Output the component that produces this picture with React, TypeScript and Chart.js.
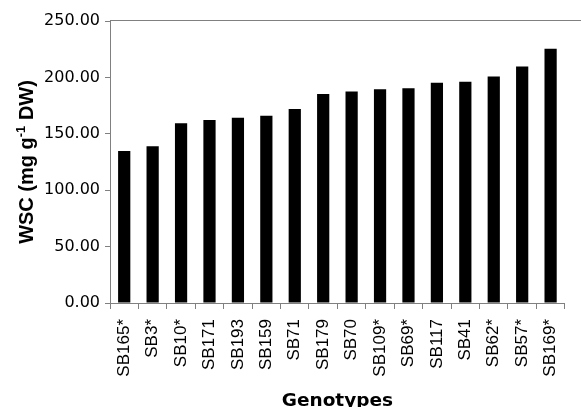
import React, { useEffect, useRef } from 'react';
import { Chart, registerables } from 'chart.js';

Chart.register(...registerables);

const categories = ['SB165*', 'SB3*', 'SB10*', 'SB171', 'SB193', 'SB159', 'SB71', 'SB179', 'SB70', 'SB109*', 'SB69*', 'SB117', 'SB41', 'SB62*', 'SB57*', 'SB169*'];
const wscValues = [134.8, 138.9, 159.3, 162.2, 164.2, 166.0, 172.0, 185.2, 187.6, 189.4, 190.3, 195.2, 196.1, 200.9, 209.7, 225.3];
const yTickValues = [0, 50, 100, 150, 200, 250];
const yTitleParts = ['WSC (mg g', '-1', ' DW)'];
const xTitle = 'Genotypes';

const decorPlugin = {
  id: 'decor',
  afterDraw(chart: any) {
    const { ctx, chartArea } = chart;
    ctx.save();
    // top frame line
    ctx.strokeStyle = '#808080';
    ctx.lineWidth = 1;
    ctx.beginPath();
    ctx.moveTo(chartArea.left, Math.round(chartArea.top) - 0.5);
    ctx.lineTo(chart.width, Math.round(chartArea.top) - 0.5);
    ctx.stroke();

    // y axis title with superscript
    ctx.fillStyle = '#000';
    ctx.textBaseline = 'alphabetic';
    ctx.textAlign = 'left';
    const mainFont = 'bold 20px "Liberation Sans", Arial, sans-serif';
    const supFont = 'bold 13px "Liberation Sans", Arial, sans-serif';
    ctx.font = mainFont;
    const w0 = ctx.measureText(yTitleParts[0]).width;
    const w2 = ctx.measureText(yTitleParts[2]).width;
    ctx.font = supFont;
    const w1 = ctx.measureText(yTitleParts[1]).width;
    const total = w0 + w1 + w2;
    const cy = (chartArea.top + chartArea.bottom) / 2;
    ctx.translate(33, cy);
    ctx.rotate(-Math.PI / 2);
    let x = -total / 2;
    ctx.font = mainFont;
    ctx.fillText(yTitleParts[0], x, 0);
    x += w0;
    ctx.font = supFont;
    ctx.fillText(yTitleParts[1], x, -8);
    x += w1;
    ctx.font = mainFont;
    ctx.fillText(yTitleParts[2], x, 0);
    ctx.setTransform(1, 0, 0, 1, 0, 0);
    ctx.restore();

    // x axis title
    ctx.save();
    ctx.fillStyle = '#000';
    ctx.font = 'bold 18.5px "DejaVu Sans", sans-serif';
    ctx.textAlign = 'center';
    ctx.textBaseline = 'alphabetic';
    ctx.fillText(xTitle, (chartArea.left + chartArea.right) / 2, 405.5);
    ctx.restore();
  },
};

export default function App() {
  const ref = useRef<HTMLCanvasElement | null>(null);

  useEffect(() => {
    document.body.style.margin = '0';
    document.body.style.overflow = 'hidden';
    const canvas = ref.current;
    if (!canvas) return;
    const chart = new Chart(canvas, {
      type: 'bar',
      data: {
        labels: categories,
        datasets: [
          {
            data: wscValues,
            backgroundColor: '#000000',
            borderWidth: 0,
            categoryPercentage: 1,
            barPercentage: 0.43,
          },
        ],
      },
      options: {
        responsive: false,
        animation: false,
        devicePixelRatio: 1,
        layout: { padding: { top: 21, right: 0, bottom: 0, left: 0 } },
        plugins: {
          legend: { display: false },
          tooltip: { enabled: false },
          title: { display: false },
        },
        scales: {
          x: {
            offset: true,
            grid: {
              display: true,
              drawOnChartArea: false,
              drawTicks: true,
              tickLength: 6,
              color: '#808080',
              offset: true,
            },
            border: { display: true, color: '#808080', width: 1 },
            ticks: {
              autoSkip: false,
              minRotation: 90,
              maxRotation: 90,
              padding: 10,
              color: '#000',
              font: { family: '"Liberation Sans", Arial, sans-serif', size: 17 },
            },
            afterFit: (s: any) => {
              s.height = 104;
            },
          },
          y: {
            min: 0,
            max: 250,
            afterBuildTicks: (s: any) => {
              s.ticks = yTickValues.map((v) => ({ value: v }));
            },
            ticks: {
              callback: (v: any) => Number(v).toFixed(2),
              padding: 5,
              color: '#000',
              font: { family: '"DejaVu Sans", sans-serif', size: 16 },
            },
            grid: {
              drawOnChartArea: false,
              tickLength: 5,
              color: '#808080',
            },
            border: { display: true, color: '#808080', width: 1 },
            afterFit: (s: any) => {
              s.width = 110;
            },
          },
        },
      },
      plugins: [decorPlugin],
    });
    return () => chart.destroy();
  }, []);

  return (
    <div style={{ width: 581, height: 407, overflow: 'hidden' }}>
      <canvas ref={ref} width={581} height={407} style={{ display: 'block' }} />
    </div>
  );
}
